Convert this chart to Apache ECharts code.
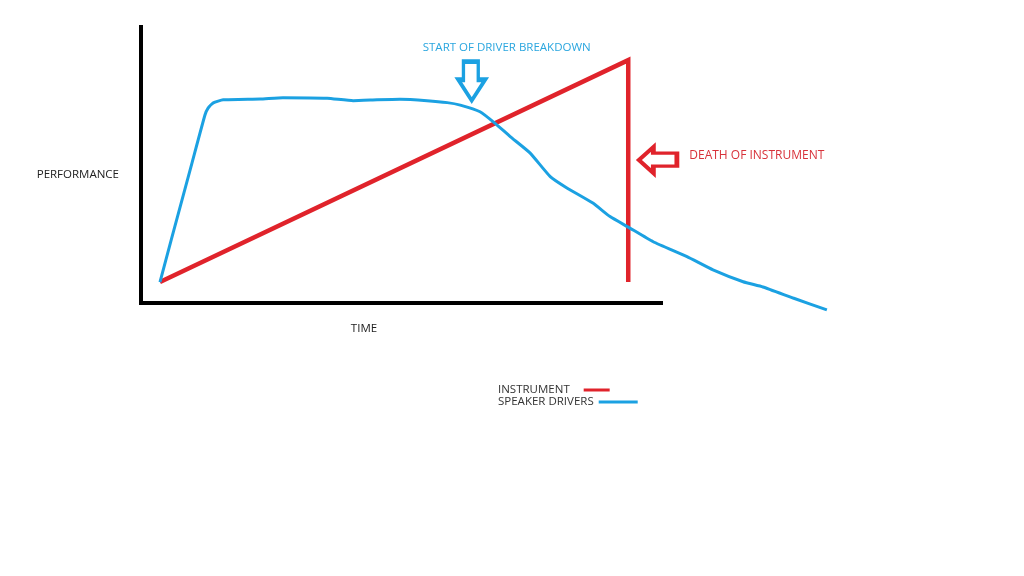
<!DOCTYPE html>
<html>
<head>
<meta charset="utf-8">
<script src="https://cdn.jsdelivr.net/npm/echarts@6/dist/echarts.min.js"></script>
<style>html,body{margin:0;padding:0;background:#fff}#c{width:1024px;height:576px}</style>
</head>
<body>
<div id="c"></div>
<script>
// Data (time 0..100 along the drawn axis, performance 0..100)
const seriesNames = ['INSTRUMENT', 'SPEAKER DRIVERS'];
const instrumentPoints = [[3.65, 7.6], [93.7, 88.0], [93.7, 7.6]];
const driverPoints = [
  [3.65, 7.6], [5.8, 22.8], [9.8, 50.7], [12.3, 68.1], [12.9, 70.6], [13.9, 72.5],
  [15.8, 73.6], [22.9, 73.9], [27.3, 74.4], [35.8, 74.2], [40.8, 73.3], [45.4, 73.6],
  [49.8, 73.8], [55.0, 73.3], [58.9, 72.6], [61.4, 71.7], [65.2, 69.3], [68.1, 65.1],
  [71.0, 60.3], [74.8, 54.4], [78.7, 45.8], [81.9, 41.7], [86.9, 36.2], [90.2, 31.3],
  [93.7, 27.5], [98.5, 22.2], [105.0, 16.8], [110.0, 12.0], [115.8, 7.7], [119.6, 5.8],
  [125.4, 1.8], [131.9, -2.5]
];
const axisNames = ['TIME', 'PERFORMANCE'];
const breakdownNote = { text: 'START OF DRIVER BREAKDOWN', coord: [63.6, 80.4] };
const deathNote = { text: 'DEATH OF INSTRUMENT', coord: [99.4, 51.8] };

const RED = '#e0232b';
const BLUE = '#1ba1e2';
const PX_X = 5.2, PX_Y = 2.76; // pixels per data unit (same in both grids)
const X0 = 141, Y100 = 27;
const plotMaxX = 135, plotMinY = -10;

const hiddenAxis = {
  axisLine: { show: false }, axisTick: { show: false },
  axisLabel: { show: false }, splitLine: { show: false }
};

const chart = echarts.init(document.getElementById('c'), null, { renderer: 'canvas' });
chart.setOption({
  animation: false,
  backgroundColor: '#fff',
  textStyle: { fontFamily: 'Open Sans' },
  grid: [
    // grid 0: the drawn axes
    { left: X0, top: Y100, width: 100 * PX_X, height: 100 * PX_Y },
    // grid 1: same scale, larger extent, for the data lines
    { left: X0, top: Y100, width: plotMaxX * PX_X, height: (100 - plotMinY) * PX_Y }
  ],
  xAxis: [
    {
      gridIndex: 0, type: 'value', min: 0, max: 100,
      name: axisNames[0], nameLocation: 'middle', nameGap: 20,
      nameTextStyle: { color: '#222', fontSize: 11.5, padding: [0, 74, 0, 0] },
      axisLine: { show: true, lineStyle: { color: '#000', width: 4, cap: 'square' } },
      axisTick: { show: false }, axisLabel: { show: false }, splitLine: { show: false }
    },
    Object.assign({ gridIndex: 1, type: 'value', min: 0, max: plotMaxX }, hiddenAxis)
  ],
  yAxis: [
    {
      gridIndex: 0, type: 'value', min: 0, max: 100,
      name: axisNames[1], nameLocation: 'middle', nameGap: 22, nameRotate: 0,
      nameTextStyle: { color: '#222', fontSize: 11.5, verticalAlign: 'top', lineHeight: 20 },
      axisLine: { show: true, lineStyle: { color: '#000', width: 4, cap: 'square' } },
      axisTick: { show: false }, axisLabel: { show: false }, splitLine: { show: false }
    },
    Object.assign({ gridIndex: 1, type: 'value', min: plotMinY, max: 100 }, hiddenAxis)
  ],
  legend: [
    {
      data: [seriesNames[0]], left: 498, top: 384, padding: 0, align: 'right',
      icon: 'rect', itemWidth: 26, itemHeight: 3, selectedMode: false,
      formatter: n => n + '   ',
      textStyle: { color: '#333', fontSize: 11.5 }
    },
    {
      data: [seriesNames[1]], left: 498, top: 396, padding: 0, align: 'right',
      icon: 'rect', itemWidth: 39, itemHeight: 3, selectedMode: false,
      textStyle: { color: '#333', fontSize: 11.5 }
    }
  ],
  series: [
    {
      name: seriesNames[0], type: 'line', xAxisIndex: 1, yAxisIndex: 1,
      data: instrumentPoints, clip: false,
      showSymbol: false, symbol: 'none', color: RED,
      lineStyle: { color: RED, width: 4.5, join: 'miter' },
      markPoint: {
        symbol: 'path://M0,15 L16,0 L16,7 L42,7 L42,22 L16,22 L16,30 Z',
        symbolSize: [38, 26],
        itemStyle: { color: 'rgba(0,0,0,0)', borderColor: RED, borderWidth: 4 },
        label: {
          show: true, position: 'right', distance: 10, offset: [0, -4],
          color: '#d8323a', fontSize: 12, formatter: deathNote.text
        },
        data: [{ coord: deathNote.coord }]
      }
    },
    {
      name: seriesNames[1], type: 'line', xAxisIndex: 1, yAxisIndex: 1,
      data: driverPoints, clip: false,
      showSymbol: false, symbol: 'none', color: BLUE, smooth: 0.15,
      lineStyle: { color: BLUE, width: 3 },
      markPoint: {
        symbol: 'path://M6,0 L23,0 L23,20 L31,20 L15.5,43 L0,20 L6,20 Z',
        symbolSize: [27, 39],
        itemStyle: { color: 'rgba(0,0,0,0)', borderColor: BLUE, borderWidth: 4 },
        label: {
          show: true, position: 'inside', offset: [35, -33],
          color: '#2aa6df', fontSize: 11.5, formatter: breakdownNote.text
        },
        data: [{ coord: breakdownNote.coord }]
      }
    }
  ]
});
</script>
</body>
</html>
